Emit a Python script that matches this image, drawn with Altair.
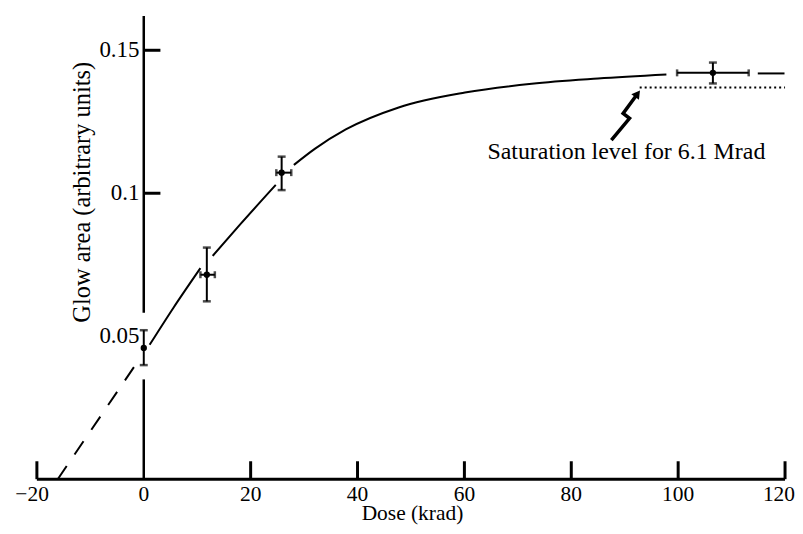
import altair as alt
import pandas as pd

# ---- measured data points (dose in krad, glow area in arbitrary units)
dose = [0.0, 11.8, 25.8, 106.5]
glow = [0.0459, 0.0715, 0.1072, 0.1421]
glow_lo = [0.0399, 0.0622, 0.1011, 0.1384]
glow_hi = [0.0521, 0.0810, 0.1128, 0.1457]
dose_lo = [0.0, 10.6, 24.8, 99.8]
dose_hi = [0.0, 13.3, 27.6, 113.2]

# ---- fitted curve (solid, broken around the points as in the original)
curve_x = [1.1, 5.5, 10.6, 12.9, 18.0, 24.7, 28.1, 32.0, 37.8, 47.7, 60.1, 72.6, 85.0, 97.8, 114.9, 119.9]
curve_y = [0.0470, 0.0598, 0.0738, 0.0781, 0.0890, 0.1029, 0.1099, 0.1155, 0.1223, 0.1300, 0.1352, 0.1383, 0.1401, 0.1415, 0.1419, 0.1419]
curve_seg = [1, 1, 1, 2, 2, 2, 3, 3, 3, 3, 3, 3, 3, 3, 4, 4]

# ---- dashed extrapolation to zero
extrap_x = [-16.1, -1.0]
extrap_y = [0.0, 0.0415]

# ---- saturation level (dotted)
sat_x = [92.8, 120.0]
sat_y = [0.137, 0.137]

# ---- zig-zag annotation arrow
zig_x = [87.5, 90.9, 89.7, 92.4]
zig_y = [0.1186, 0.1262, 0.1279, 0.1348]
ann_text = ["Saturation level for 6.1 Mrad"]
ann_x = [64.3]
ann_y = [0.1145]

# ---- axes
x_range = [-20, 120]
x_ticks = [-20, 20, 40, 60, 80, 100, 120]
x_labels_mid = ["0", "20", "40", "60", "80", "100"]
x_label_mid_pos = [0, 20, 40, 60, 80, 100]
x_label_first = ["\u221220"]
x_label_first_pos = [-20]
x_label_last = ["120"]
x_label_last_pos = [120]
y_ticks = [0.1, 0.15]
y_labels = ["0.05", "0.1", "0.15"]
y_label_pos = [0.05, 0.1, 0.15]
y_axis_lo = [0.0, 0.0582]
y_axis_hi = [0.0349, 0.162]
x_title_text = ["Dose (krad)"]
y_title_text = ["Glow area (arbitrary units)"]

FONT = "Liberation Serif"
W, H = 751, 465
xs = alt.Scale(domain=[-20, 120], nice=False, zero=False)
ys = alt.Scale(domain=[0, 0.162], nice=False, zero=False)

pts = pd.DataFrame({"dose": dose, "glow": glow, "lo": glow_lo, "hi": glow_hi,
                    "dlo": dose_lo, "dhi": dose_hi})
pts_h = pts[pts["dhi"] > pts["dlo"]]
curve = pd.DataFrame({"x": curve_x, "y": curve_y, "seg": curve_seg})
extrap = pd.DataFrame({"x": extrap_x, "y": extrap_y})
sat = pd.DataFrame({"x": sat_x, "y": sat_y})
zig = pd.DataFrame({"x": zig_x, "y": zig_y, "o": list(range(len(zig_x)))})
ann = pd.DataFrame({"x": ann_x, "y": ann_y, "t": ann_text})
xa = pd.DataFrame({"x0": [x_range[0]], "x1": [x_range[1]]})
xt = pd.DataFrame({"x": x_ticks})
xl_mid = pd.DataFrame({"x": x_label_mid_pos, "t": x_labels_mid})
xl_first = pd.DataFrame({"x": x_label_first_pos, "t": x_label_first})
xl_last = pd.DataFrame({"x": x_label_last_pos, "t": x_label_last})
yt = pd.DataFrame({"y": y_ticks, "x": [0] * len(y_ticks)})
yl = pd.DataFrame({"y": y_label_pos, "t": y_labels})
ya = pd.DataFrame({"lo": y_axis_lo, "hi": y_axis_hi, "x": [0] * len(y_axis_lo)})
xtt = pd.DataFrame({"t": x_title_text})
ytt = pd.DataFrame({"t": y_title_text})


def X(f):
    return alt.X(f, type="quantitative", scale=xs, axis=None)


def Y(f):
    return alt.Y(f, type="quantitative", scale=ys, axis=None)


LBL_Y = H + 16
LBL_FS = 21.5
base_x_axis = alt.Chart(xa).mark_rule(color="black", strokeWidth=3).encode(
    x=X("x0"), x2="x1", y=alt.value(H))
x_tick_marks = alt.Chart(xt).mark_rule(color="black", strokeWidth=3).encode(
    x=X("x"), y=alt.value(H), y2=alt.value(H - 18))
x_tick_text = alt.Chart(xl_mid).mark_text(font=FONT, fontSize=LBL_FS, color="black",
                                          baseline="middle", align="center").encode(
    x=X("x"), y=alt.value(LBL_Y), text="t:N")
x_tick_first = alt.Chart(xl_first).mark_text(font=FONT, fontSize=LBL_FS, color="black",
                                             baseline="middle", align="right", dx=12).encode(
    x=X("x"), y=alt.value(LBL_Y), text="t:N")
x_tick_last = alt.Chart(xl_last).mark_text(font=FONT, fontSize=LBL_FS, color="black",
                                           baseline="middle", align="right", dx=10).encode(
    x=X("x"), y=alt.value(LBL_Y), text="t:N")
x_title = alt.Chart(xtt).mark_text(font=FONT, fontSize=21.5, color="black",
                                   baseline="middle", align="center").encode(
    x=alt.value(377), y=alt.value(500), text="t:N")

y_axis_line = alt.Chart(ya).mark_rule(color="black", strokeWidth=2.5).encode(
    x=X("x"), y=Y("lo"), y2="hi")
y_tick_marks = alt.Chart(yt).mark_rule(color="black", strokeWidth=3).encode(
    x=X("x"), x2=alt.value(124), y=Y("y"))
y_tick_text = alt.Chart(yl).mark_text(font=FONT, fontSize=23, color="black",
                                      baseline="middle", align="right").encode(
    x=alt.value(103), y=Y("y"), text="t:N")
y_title = alt.Chart(ytt).mark_text(font=FONT, fontSize=24.5, color="black", angle=270,
                                   baseline="middle", align="center").encode(
    x=alt.value(46), y=alt.value(177), text="t:N")

curve_layer = alt.Chart(curve).mark_line(color="black", strokeWidth=2,
                                         interpolate="monotone").encode(
    x=X("x"), y=Y("y"), detail="seg:N")
extrap_layer = alt.Chart(extrap).mark_line(color="black", strokeWidth=2,
                                           strokeDash=[16, 14]).encode(x=X("x"), y=Y("y"))
sat_layer = alt.Chart(sat).mark_line(color="black", strokeWidth=2,
                                     strokeDash=[2, 3]).encode(x=X("x"), y=Y("y"))

v_err = alt.Chart(pts).mark_rule(color="black", strokeWidth=2).encode(
    x=X("dose"), y=Y("lo"), y2="hi")
v_cap_lo = alt.Chart(pts).mark_tick(color="black", orient="horizontal", size=8,
                                     thickness=2.5).encode(x=X("dose"), y=Y("lo"))
v_cap_hi = alt.Chart(pts).mark_tick(color="black", orient="horizontal", size=8,
                                     thickness=2.5).encode(x=X("dose"), y=Y("hi"))
h_err = alt.Chart(pts_h).mark_rule(color="black", strokeWidth=2).encode(
    x=X("dlo"), x2="dhi", y=Y("glow"))
h_cap_lo = alt.Chart(pts_h).mark_tick(color="black", orient="vertical", size=7,
                                       thickness=2.5).encode(x=X("dlo"), y=Y("glow"))
h_cap_hi = alt.Chart(pts_h).mark_tick(color="black", orient="vertical", size=7,
                                       thickness=2.5).encode(x=X("dhi"), y=Y("glow"))
dots = alt.Chart(pts).mark_point(color="black", filled=True, opacity=1, size=40,
                                 shape="circle").encode(x=X("dose"), y=Y("glow"))

zig_layer = alt.Chart(zig).mark_line(color="black", strokeWidth=3.5).encode(
    x=X("x"), y=Y("y"), order="o:Q")
arrow_head = alt.Chart(zig.tail(1)).mark_point(color="black", filled=True, opacity=1,
                                               shape="triangle-up", size=90,
                                               angle=36).encode(x=X("x"), y=Y("y"))
ann_layer = alt.Chart(ann).mark_text(font=FONT, fontSize=24, color="black",
                                     align="left", baseline="middle").encode(
    x=X("x"), y=Y("y"), text="t:N")

chart = alt.layer(
    base_x_axis, x_tick_marks, x_tick_text, x_tick_first, x_tick_last, x_title,
    y_axis_line, y_tick_marks, y_tick_text, y_title,
    extrap_layer, curve_layer, sat_layer,
    v_err, v_cap_lo, v_cap_hi, h_err, h_cap_lo, h_cap_hi, dots,
    zig_layer, arrow_head, ann_layer,
).properties(
    width=W, height=H,
    autosize=alt.AutoSizeParams(type="none"),
    padding={"left": 29, "top": 7, "right": 10, "bottom": 46},
    background="white",
).configure_view(stroke=None)

chart.save("out.html", embed_options={"renderer": "svg", "actions": False})
